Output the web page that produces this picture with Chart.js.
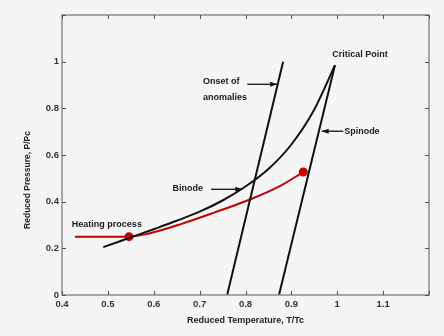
<!DOCTYPE html>
<html><head><meta charset="utf-8">
<script src="https://cdn.jsdelivr.net/npm/chart.js@4.4.1/dist/chart.umd.min.js"></script>
<style>html,body{margin:0;padding:0;background:#f5f5f5}#w{width:444px;height:336px}</style>
</head><body><div id="w"><canvas id="c" width="444" height="336"></canvas></div>
<script>
const onsetT = [0.76, 0.882];
const onsetP = [0.0, 1.0];
const spinodeT = [0.873, 0.995];
const spinodeP = [0.0, 0.985];
const binodeT = [0.49, 0.55, 0.6, 0.65, 0.7, 0.75, 0.8, 0.85, 0.9, 0.95, 0.995];
const binodeP = [0.205, 0.247, 0.282, 0.318, 0.357, 0.405, 0.465, 0.54, 0.645, 0.795, 0.985];
const heatT = [0.428, 0.5, 0.546, 0.59, 0.661, 0.733, 0.804, 0.876, 0.926];
const heatP = [0.25, 0.25, 0.25, 0.264, 0.305, 0.354, 0.405, 0.468, 0.527];
const xTicks = [0.4, 0.5, 0.6, 0.7, 0.8, 0.9, 1, 1.1, 1.2];
const yTicks = [0, 0.2, 0.4, 0.6, 0.8, 1, 1.2];
const xTitle = 'Reduced Temperature, T/Tc';
const yTitle = 'Reduced Pressure, P/Pc';
const notes = [
  {t: 'Onset of', x: 0.7075, y: 0.915},
  {t: 'anomalies', x: 0.7075, y: 0.847},
  {t: 'Critical Point', x: 0.989, y: 1.03},
  {t: 'Spinode', x: 1.015, y: 0.702},
  {t: 'Binode', x: 0.641, y: 0.455},
  {t: 'Heating process', x: 0.4215, y: 0.30}
];
const arrows = [
  {x1: 0.804, y1: 0.903, x2: 0.869, y2: 0.903},
  {x1: 1.013, y1: 0.702, x2: 0.966, y2: 0.702},
  {x1: 0.725, y1: 0.453, x2: 0.793, y2: 0.453}
];

const pts = (xs, ys) => xs.map((x, i) => ({x, y: ys[i]}));
const FAM = '"Liberation Sans", Arial, sans-serif';

const deco = {
  id: 'deco',
  afterDatasetsDraw(chart) {
    const {ctx, chartArea: a, scales: {x, y}} = chart;
    ctx.save();
    ctx.strokeStyle = '#8c8c8c';
    ctx.lineWidth = 1.5;
    ctx.strokeRect(a.left, a.top, a.right - a.left, a.bottom - a.top);
    ctx.strokeStyle = '#555';
    ctx.lineWidth = 1;
    const L = 4;
    xTicks.forEach(v => {
      const px = Math.round(x.getPixelForValue(v)) + 0.5;
      ctx.beginPath();
      ctx.moveTo(px, a.bottom); ctx.lineTo(px, a.bottom - L);
      ctx.moveTo(px, a.top); ctx.lineTo(px, a.top + L);
      ctx.stroke();
    });
    yTicks.forEach(v => {
      const py = Math.round(y.getPixelForValue(v)) + 0.5;
      ctx.beginPath();
      ctx.moveTo(a.left, py); ctx.lineTo(a.left + L, py);
      ctx.moveTo(a.right, py); ctx.lineTo(a.right - L, py);
      ctx.stroke();
    });
    ctx.fillStyle = '#1a1a1a';
    ctx.font = 'bold 9px ' + FAM;
    ctx.textBaseline = 'middle';
    ctx.textAlign = 'left';
    notes.forEach(n => ctx.fillText(n.t, x.getPixelForValue(n.x), y.getPixelForValue(n.y)));
    ctx.strokeStyle = '#111';
    ctx.lineWidth = 1.3;
    arrows.forEach(ar => {
      const x1 = x.getPixelForValue(ar.x1), y1 = y.getPixelForValue(ar.y1);
      const x2 = x.getPixelForValue(ar.x2), y2 = y.getPixelForValue(ar.y2);
      ctx.beginPath(); ctx.moveTo(x1, y1); ctx.lineTo(x2, y2); ctx.stroke();
      const d = x2 > x1 ? 1 : -1;
      ctx.beginPath();
      ctx.moveTo(x2, y2);
      ctx.lineTo(x2 - d * 7, y2 - 2.5);
      ctx.lineTo(x2 - d * 7, y2 + 2.5);
      ctx.closePath(); ctx.fillStyle = '#111'; ctx.fill();
    });
    ctx.fillStyle = '#222';
    ctx.font = 'bold 9px ' + FAM;
    ctx.textAlign = 'center';
    ctx.fillText(xTitle, (a.left + a.right) / 2, 321);
    ctx.font = 'bold 8.5px ' + FAM;
    ctx.translate(28, 180);
    ctx.rotate(-Math.PI / 2);
    ctx.fillText(yTitle, 0, 0);
    ctx.restore();
  }
};

const tickFont = {family: FAM, size: 9.5, weight: 'bold'};
new Chart(document.getElementById('c'), {
  type: 'scatter',
  data: {datasets: [
    {data: pts(onsetT, onsetP), showLine: true, borderColor: '#111', borderWidth: 2, pointRadius: 0},
    {data: pts(spinodeT, spinodeP), showLine: true, borderColor: '#111', borderWidth: 2, pointRadius: 0},
    {data: pts(binodeT, binodeP), showLine: true, borderColor: '#111', borderWidth: 2, pointRadius: 0, cubicInterpolationMode: 'monotone'},
    {data: pts(heatT, heatP), showLine: true, borderColor: '#c40000', backgroundColor: '#d00000', borderWidth: 2,
     pointRadius: heatT.map((v, i) => (i === 2 || i === heatT.length - 1) ? 3.5 : 0), cubicInterpolationMode: 'monotone'}
  ]},
  options: {
    responsive: false, animation: false,
    layout: {padding: {left: 0, right: 15, top: 15, bottom: 0}},
    plugins: {legend: {display: false}, tooltip: {enabled: false}},
    scales: {
      x: {type: 'linear', min: 0.4, max: 1.2,
        afterFit: s => { s.height = 41; },
        afterBuildTicks: s => { s.ticks = xTicks.map(v => ({value: v})); },
        grid: {display: false, drawTicks: false}, border: {display: false},
        ticks: {color: '#333', font: tickFont, padding: 4, callback: v => v === 1.2 ? '' : (Math.round(v * 10) / 10).toString()}
      },
      y: {type: 'linear', min: 0, max: 1.2,
        afterFit: s => { s.width = 62; },
        afterBuildTicks: s => { s.ticks = yTicks.map(v => ({value: v})); },
        grid: {display: false, drawTicks: false}, border: {display: false},
        ticks: {color: '#333', font: tickFont, padding: 3, callback: v => v === 1.2 ? '' : (Math.round(v * 10) / 10).toString()}
      }
    }
  },
  plugins: [deco]
});
</script></body></html>
